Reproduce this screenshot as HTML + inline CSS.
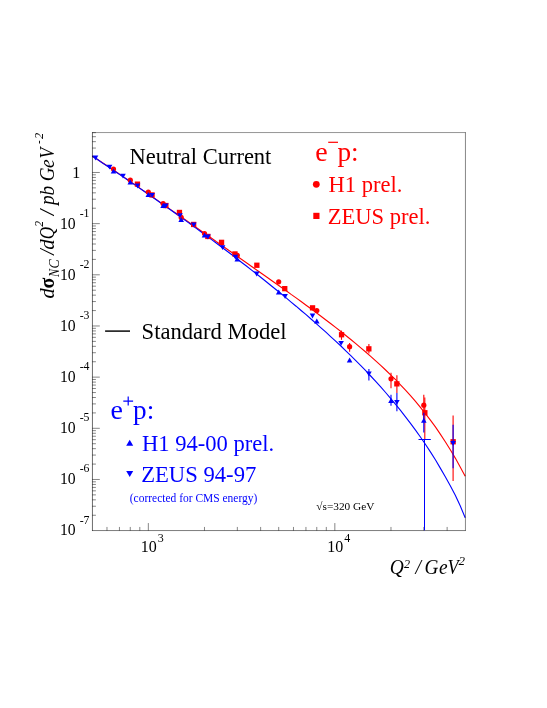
<!DOCTYPE html>
<html><head><meta charset="utf-8"><title>NC cross section</title>
<style>html,body{margin:0;padding:0;background:#fff}svg{display:block;will-change:transform}text{font-family:"Liberation Serif",serif}</style></head><body>
<svg width="547" height="708" viewBox="0 0 547 708">
<rect x="0" y="0" width="547" height="708" fill="#fff"/>
<g id="curves">
<path d="M92.2 156.0 L97.2 159.3 L102.1 162.5 L107.1 165.8 L112.1 169.2 L117.1 172.5 L122.0 175.9 L127.0 179.3 L132.0 182.7 L137.0 186.1 L141.9 189.6 L146.9 193.0 L151.9 196.5 L156.9 199.9 L161.8 203.4 L166.8 206.9 L171.8 210.4 L176.7 213.8 L181.7 217.3 L186.7 220.8 L191.7 224.3 L196.6 227.8 L201.6 231.3 L206.6 234.8 L211.6 238.3 L216.5 241.8 L221.5 245.2 L226.5 248.7 L231.5 252.2 L236.4 255.7 L241.4 259.2 L246.4 262.7 L251.3 266.2 L256.3 269.7 L261.3 273.2 L266.3 276.7 L271.2 280.2 L276.2 283.7 L281.2 287.3 L286.2 290.8 L291.1 294.4 L296.1 297.9 L301.1 301.5 L306.1 305.2 L311.0 308.8 L316.0 312.5 L321.0 316.2 L325.9 320.0 L330.9 323.8 L335.9 327.6 L340.9 331.5 L345.8 335.5 L350.8 339.5 L355.8 343.6 L360.8 347.8 L365.7 352.0 L370.7 356.3 L375.7 360.8 L380.7 365.3 L385.6 370.0 L390.6 374.8 L395.6 379.7 L400.5 384.9 L405.5 390.2 L410.5 395.7 L415.5 401.4 L420.4 407.3 L425.4 413.6 L430.4 420.1 L435.4 426.9 L440.3 434.1 L445.3 441.7 L450.3 449.7 L455.3 458.1 L460.2 466.9 L465.2 476.3" fill="none" stroke="#ff0000" stroke-width="1.1"/>
<path d="M92.2 156.0 L97.2 159.3 L102.1 162.7 L107.1 166.0 L112.1 169.4 L117.1 172.8 L122.0 176.1 L127.0 179.5 L132.0 182.9 L137.0 186.4 L141.9 189.8 L146.9 193.2 L151.9 196.7 L156.9 200.2 L161.8 203.7 L166.8 207.2 L171.8 210.7 L176.7 214.2 L181.7 217.8 L186.7 221.4 L191.7 225.0 L196.6 228.6 L201.6 232.2 L206.6 235.9 L211.6 239.6 L216.5 243.3 L221.5 247.0 L226.5 250.8 L231.5 254.5 L236.4 258.3 L241.4 262.2 L246.4 266.0 L251.3 269.9 L256.3 273.8 L261.3 277.8 L266.3 281.7 L271.2 285.7 L276.2 289.8 L281.2 293.8 L286.2 297.9 L291.1 302.1 L296.1 306.2 L301.1 310.5 L306.1 314.7 L311.0 319.0 L316.0 323.4 L321.0 327.8 L325.9 332.2 L330.9 336.8 L335.9 341.4 L340.9 346.0 L345.8 350.8 L350.8 355.6 L355.8 360.6 L360.8 365.6 L365.7 370.7 L370.7 376.0 L375.7 381.4 L380.7 386.9 L385.6 392.5 L390.6 398.3 L395.6 404.3 L400.5 410.4 L405.5 416.8 L410.5 423.3 L415.5 430.1 L420.4 437.0 L425.4 444.3 L430.4 451.9 L435.4 459.8 L440.3 468.1 L445.3 476.7 L450.3 485.7 L455.3 495.3 L460.2 505.8 L465.2 517.7" fill="none" stroke="#0000ff" stroke-width="1.1"/>
</g>
<g id="axes" stroke="#000" stroke-width="0.48" fill="none">
<path d="M92.45 132.35V530.95" stroke-width="0.58"/>
<path d="M92.10 530.55H465.70" stroke-width="0.52"/>
<path d="M465.45 530.85V132.35"/>
<path d="M465.70 132.55H92.10" stroke-width="0.42"/>
<path d="M106.97 530.65v-3.7M119.45 530.65v-3.7M130.27 530.65v-3.7M139.81 530.65v-3.7M148.34 530.65v-7.6M204.48 530.65v-3.7M237.33 530.65v-3.7M260.63 530.65v-3.7M278.70 530.65v-3.7M293.47 530.65v-3.7M305.95 530.65v-3.7M316.77 530.65v-3.7M326.31 530.65v-3.7M334.84 530.65v-7.6M390.98 530.65v-3.7M423.83 530.65v-3.7M447.13 530.65v-3.7M92.2 515.25h3.7M92.2 506.24h3.7M92.2 499.84h3.7M92.2 494.88h3.7M92.2 490.83h3.7M92.2 487.41h3.7M92.2 484.44h3.7M92.2 481.82h3.7M92.2 479.48h7.6M92.2 464.08h3.7M92.2 455.07h3.7M92.2 448.67h3.7M92.2 443.72h3.7M92.2 439.66h3.7M92.2 436.24h3.7M92.2 433.27h3.7M92.2 430.65h3.7M92.2 428.31h7.6M92.2 412.91h3.7M92.2 403.90h3.7M92.2 397.51h3.7M92.2 392.55h3.7M92.2 388.49h3.7M92.2 385.07h3.7M92.2 382.10h3.7M92.2 379.48h3.7M92.2 377.14h7.6M92.2 361.74h3.7M92.2 352.73h3.7M92.2 346.34h3.7M92.2 341.38h3.7M92.2 337.33h3.7M92.2 333.90h3.7M92.2 330.93h3.7M92.2 328.32h3.7M92.2 325.97h7.6M92.2 310.57h3.7M92.2 301.56h3.7M92.2 295.17h3.7M92.2 290.21h3.7M92.2 286.16h3.7M92.2 282.73h3.7M92.2 279.76h3.7M92.2 277.15h3.7M92.2 274.81h7.6M92.2 259.40h3.7M92.2 250.39h3.7M92.2 244.00h3.7M92.2 239.04h3.7M92.2 234.99h3.7M92.2 231.56h3.7M92.2 228.59h3.7M92.2 225.98h3.7M92.2 223.64h7.6M92.2 208.23h3.7M92.2 199.22h3.7M92.2 192.83h3.7M92.2 187.87h3.7M92.2 183.82h3.7M92.2 180.39h3.7M92.2 177.43h3.7M92.2 174.81h3.7M92.2 172.47h7.6M92.2 157.06h3.7M92.2 148.05h3.7M92.2 141.66h3.7M92.2 136.70h3.7M92.2 132.65h3.7"/>
</g>
<g id="ticklabels" fill="#000">
<text x="140.74" y="552" font-size="16">10</text>
<text x="157.79" y="541.5" font-size="12">3</text>
<text x="327.24" y="552" font-size="16">10</text>
<text x="344.29" y="541.5" font-size="12">4</text>
<text x="72.3" y="177.92" font-size="16">1</text>
<text x="59.9" y="228.64" font-size="15.7">10</text>
<text x="79.65" y="216.64" font-size="11.8">-1</text>
<text x="59.9" y="279.81" font-size="15.7">10</text>
<text x="79.65" y="267.81" font-size="11.8">-2</text>
<text x="59.9" y="330.97" font-size="15.7">10</text>
<text x="79.65" y="318.97" font-size="11.8">-3</text>
<text x="59.9" y="382.14" font-size="15.7">10</text>
<text x="79.65" y="370.14" font-size="11.8">-4</text>
<text x="59.9" y="433.31" font-size="15.7">10</text>
<text x="79.65" y="421.31" font-size="11.8">-5</text>
<text x="59.9" y="484.48" font-size="15.7">10</text>
<text x="79.65" y="472.48" font-size="11.8">-6</text>
<text x="59.9" y="534.65" font-size="15.7">10</text>
<text x="79.65" y="523.65" font-size="11.8">-7</text>
</g>
<g id="titles" fill="#000">
<text x="389.7" y="574.4" font-size="20" font-style="italic" textLength="14.03" lengthAdjust="spacingAndGlyphs">Q</text>
<text x="403.9" y="568.1" font-size="13" font-style="italic" textLength="6.07" lengthAdjust="spacingAndGlyphs">2</text>
<text x="415.5" y="574.4" font-size="20" font-style="italic" textLength="5.49" lengthAdjust="spacingAndGlyphs">/</text>
<text x="424.6" y="574.4" font-size="20" font-style="italic" textLength="13.87" lengthAdjust="spacingAndGlyphs">G</text>
<text x="438.9" y="574.4" font-size="20" font-style="italic" textLength="8.64" lengthAdjust="spacingAndGlyphs">e</text>
<text x="447.6" y="574.4" font-size="20" font-style="italic" textLength="11.10" lengthAdjust="spacingAndGlyphs">V</text>
<text x="458.5" y="565.0" font-size="13" font-style="italic">2</text>
<text transform="translate(53.5,298.4) rotate(-90)" font-size="20" font-style="italic" textLength="10.17" lengthAdjust="spacingAndGlyphs">d</text>
<text transform="translate(53.5,288.6) rotate(-90)" font-size="20" font-weight="bold" textLength="10.77" lengthAdjust="spacingAndGlyphs">σ</text>
<text transform="translate(59.3,276.9) rotate(-90)" font-size="14.2" font-style="italic" textLength="8.05" lengthAdjust="spacingAndGlyphs">N</text>
<text transform="translate(59.3,268.5) rotate(-90)" font-size="14.2" font-style="italic" textLength="9.14" lengthAdjust="spacingAndGlyphs">C</text>
<text transform="translate(53.5,254.8) rotate(-90)" font-size="20" font-style="italic" textLength="5.49" lengthAdjust="spacingAndGlyphs">/</text>
<text transform="translate(53.5,249.8) rotate(-90)" font-size="20" font-style="italic" textLength="10.38" lengthAdjust="spacingAndGlyphs">d</text>
<text transform="translate(53.5,239.3) rotate(-90)" font-size="20" font-style="italic" textLength="12.36" lengthAdjust="spacingAndGlyphs">Q</text>
<text transform="translate(43.1,226.8) rotate(-90)" font-size="13.5" font-style="italic" textLength="5.86" lengthAdjust="spacingAndGlyphs">2</text>
<text transform="translate(53.5,215.2) rotate(-90)" font-size="20" font-style="italic" textLength="5.63" lengthAdjust="spacingAndGlyphs">/</text>
<text transform="translate(53.5,205.1) rotate(-90)" font-size="20" font-style="italic" textLength="19.35" lengthAdjust="spacingAndGlyphs">pb</text>
<text transform="translate(53.5,181.2) rotate(-90)" font-size="20" font-style="italic" textLength="13.76" lengthAdjust="spacingAndGlyphs">G</text>
<text transform="translate(53.5,168.0) rotate(-90)" font-size="20" font-style="italic" textLength="8.64" lengthAdjust="spacingAndGlyphs">e</text>
<text transform="translate(53.5,158.6) rotate(-90)" font-size="20" font-style="italic" textLength="10.73" lengthAdjust="spacingAndGlyphs">V</text>
<text transform="translate(43.1,143.7) rotate(-90)" font-size="13.5" font-style="italic" textLength="3.33" lengthAdjust="spacingAndGlyphs">-</text>
<text transform="translate(43.1,139.0) rotate(-90)" font-size="13.5" font-style="italic" textLength="6.18" lengthAdjust="spacingAndGlyphs">2</text>
</g>
<g id="data">
<circle cx="113.5" cy="169.1" r="2.6" fill="#ff0000"/>
<circle cx="130.3" cy="180.2" r="2.6" fill="#ff0000"/>
<circle cx="148.3" cy="192.1" r="2.6" fill="#ff0000"/>
<circle cx="163.1" cy="203.6" r="2.6" fill="#ff0000"/>
<circle cx="181.2" cy="217.4" r="2.6" fill="#ff0000"/>
<circle cx="204.5" cy="233.5" r="2.6" fill="#ff0000"/>
<circle cx="237.3" cy="255.3" r="2.6" fill="#ff0000"/>
<circle cx="278.7" cy="281.8" r="2.6" fill="#ff0000"/>
<circle cx="316.8" cy="310.5" r="2.6" fill="#ff0000"/>
<path d="M349.6 342.9V351.7" stroke="#ff0000" stroke-width="1.1" fill="none"/>
<circle cx="349.6" cy="346.7" r="2.6" fill="#ff0000"/>
<path d="M391.0 372.8V388.3" stroke="#ff0000" stroke-width="1.1" fill="none"/>
<circle cx="391.0" cy="378.8" r="2.6" fill="#ff0000"/>
<path d="M423.8 394.7V420.0" stroke="#ff0000" stroke-width="1.1" fill="none"/>
<circle cx="423.8" cy="405.2" r="2.6" fill="#ff0000"/>
<rect x="134.8" y="181.5" width="5.3" height="5.3" fill="#ff0000"/>
<rect x="149.4" y="192.3" width="5.3" height="5.3" fill="#ff0000"/>
<rect x="163.2" y="202.9" width="5.3" height="5.3" fill="#ff0000"/>
<rect x="176.8" y="209.8" width="5.3" height="5.3" fill="#ff0000"/>
<rect x="191.0" y="221.8" width="5.3" height="5.3" fill="#ff0000"/>
<rect x="205.2" y="233.8" width="5.3" height="5.3" fill="#ff0000"/>
<rect x="218.9" y="239.7" width="5.3" height="5.3" fill="#ff0000"/>
<rect x="232.3" y="251.3" width="5.3" height="5.3" fill="#ff0000"/>
<rect x="254.2" y="262.6" width="5.3" height="5.3" fill="#ff0000"/>
<rect x="282.1" y="286.0" width="5.3" height="5.3" fill="#ff0000"/>
<rect x="309.9" y="305.2" width="5.3" height="5.3" fill="#ff0000"/>
<path d="M341.5 330.6V339.8" stroke="#ff0000" stroke-width="1.1" fill="none"/>
<rect x="338.9" y="332.1" width="5.3" height="5.3" fill="#ff0000"/>
<path d="M368.9 344.0V353.5" stroke="#ff0000" stroke-width="1.1" fill="none"/>
<rect x="366.2" y="346.2" width="5.3" height="5.3" fill="#ff0000"/>
<path d="M396.9 375.2V392.9" stroke="#ff0000" stroke-width="1.1" fill="none"/>
<rect x="394.2" y="381.2" width="5.3" height="5.3" fill="#ff0000"/>
<path d="M424.8 397.5V439.5" stroke="#ff0000" stroke-width="1.1" fill="none"/>
<rect x="422.2" y="410.1" width="5.3" height="5.3" fill="#ff0000"/>
<path d="M453.1 415.4V481.0" stroke="#ff0000" stroke-width="1.1" fill="none"/>
<rect x="450.5" y="439.1" width="5.3" height="5.3" fill="#ff0000"/>
<path d="M110.7 173.5h5.6L113.5 168.5z" fill="#0000ff"/>
<path d="M127.5 184.5h5.6L130.3 179.5z" fill="#0000ff"/>
<path d="M145.5 197.0h5.6L148.3 192.0z" fill="#0000ff"/>
<path d="M160.3 208.0h5.6L163.1 203.0z" fill="#0000ff"/>
<path d="M178.4 222.0h5.6L181.2 217.0z" fill="#0000ff"/>
<path d="M201.7 237.5h5.6L204.5 232.5z" fill="#0000ff"/>
<path d="M234.5 261.5h5.6L237.3 256.5z" fill="#0000ff"/>
<path d="M275.9 294.5h5.6L278.7 289.5z" fill="#0000ff"/>
<path d="M314.0 323.6h5.6L316.8 318.6z" fill="#0000ff"/>
<path d="M346.8 362.4h5.6L349.6 357.4z" fill="#0000ff"/>
<path d="M391.0 394.7V405.7" stroke="#0000ff" stroke-width="1.1" fill="none"/>
<path d="M388.2 403.1h5.6L391.0 398.1z" fill="#0000ff"/>
<path d="M423.8 412.8V432.6" stroke="#0000ff" stroke-width="1.1" fill="none"/>
<path d="M421.0 422.8h5.6L423.8 417.8z" fill="#0000ff"/>
<path d="M92.7 155.6h5.6L95.5 160.4z" fill="#0000ff"/>
<path d="M106.8 164.8h5.6L109.6 169.6z" fill="#0000ff"/>
<path d="M120.2 173.8h5.6L123.0 178.6z" fill="#0000ff"/>
<path d="M134.7 183.6h5.6L137.5 188.4z" fill="#0000ff"/>
<path d="M149.3 193.0h5.6L152.1 197.8z" fill="#0000ff"/>
<path d="M163.0 203.6h5.6L165.8 208.4z" fill="#0000ff"/>
<path d="M177.2 213.3h5.6L180.0 218.1z" fill="#0000ff"/>
<path d="M190.9 222.6h5.6L193.7 227.4z" fill="#0000ff"/>
<path d="M205.1 234.6h5.6L207.9 239.4z" fill="#0000ff"/>
<path d="M219.8 245.2h5.6L222.6 250.0z" fill="#0000ff"/>
<path d="M232.6 254.8h5.6L235.4 259.6z" fill="#0000ff"/>
<path d="M253.9 271.6h5.6L256.7 276.4z" fill="#0000ff"/>
<path d="M282.3 294.1h5.6L285.1 298.9z" fill="#0000ff"/>
<path d="M309.7 313.6h5.6L312.5 318.4z" fill="#0000ff"/>
<path d="M338.3 341.0h5.6L341.1 345.8z" fill="#0000ff"/>
<path d="M368.9 369.0V380.6" stroke="#0000ff" stroke-width="1.1" fill="none"/>
<path d="M366.1 371.6h5.6L368.9 376.4z" fill="#0000ff"/>
<path d="M396.9 392.9V411.2" stroke="#0000ff" stroke-width="1.1" fill="none"/>
<path d="M394.1 400.0h5.6L396.9 404.8z" fill="#0000ff"/>
<path d="M453.1 424.7V468.2" stroke="#0000ff" stroke-width="1.1" fill="none"/>
<path d="M450.3 441.1h5.6L453.1 445.9z" fill="#0000ff"/>
<path d="M418.5 439.5H430.8" stroke="#0000ff" stroke-width="1.05" fill="none"/>
<path d="M424.5 439.5V530.3" stroke="#0000ff" stroke-width="1" fill="none"/>
</g>
<g id="legend">
<text x="129.55" y="164.4" font-size="22.5" fill="#000">Neutral Current</text>
<path d="M105.1 331.1H130" stroke="#000" stroke-width="1.45"/>
<text x="141.6" y="338.8" font-size="22.6" fill="#000">Standard Model</text>
<g fill="#ff0000">
<text x="315.3" y="160.6" font-size="28">e</text>
<rect x="328.2" y="141.7" width="9.8" height="1.2"/>
<text x="337.5" y="160.6" font-size="27.2">p:</text>
<circle cx="316.3" cy="184.3" r="3.4"/>
<text x="328.45" y="191.7" font-size="22.55">H1 prel.</text>
<rect x="313.3" y="212.8" width="6.2" height="6.2"/>
<text x="327.7" y="224.1" font-size="22.55">ZEUS prel.</text>
</g>
<g fill="#0000ff">
<text x="110.6" y="419.4" font-size="28">e</text>
<path d="M123.3 401.1h9.8M128.2 396.6v9" stroke="#0000ff" stroke-width="1.2" fill="none"/>
<text x="133.1" y="419.2" font-size="27.2">p:</text>
<path d="M126.2 445.8h7L129.7 439.7z"/>
<text x="142.05" y="450.5" font-size="22.55">H1 94-00 prel.</text>
<path d="M126.2 470.9h7L129.7 477z"/>
<text x="141.2" y="482.0" font-size="22.65">ZEUS 94-97</text>
<text x="129.8" y="501.9" font-size="11.47">(corrected for CMS energy)</text>
</g>
<text x="316.3" y="510.3" font-size="11.3" fill="#000">√s=320 GeV</text>
</g>
</svg></body></html>
